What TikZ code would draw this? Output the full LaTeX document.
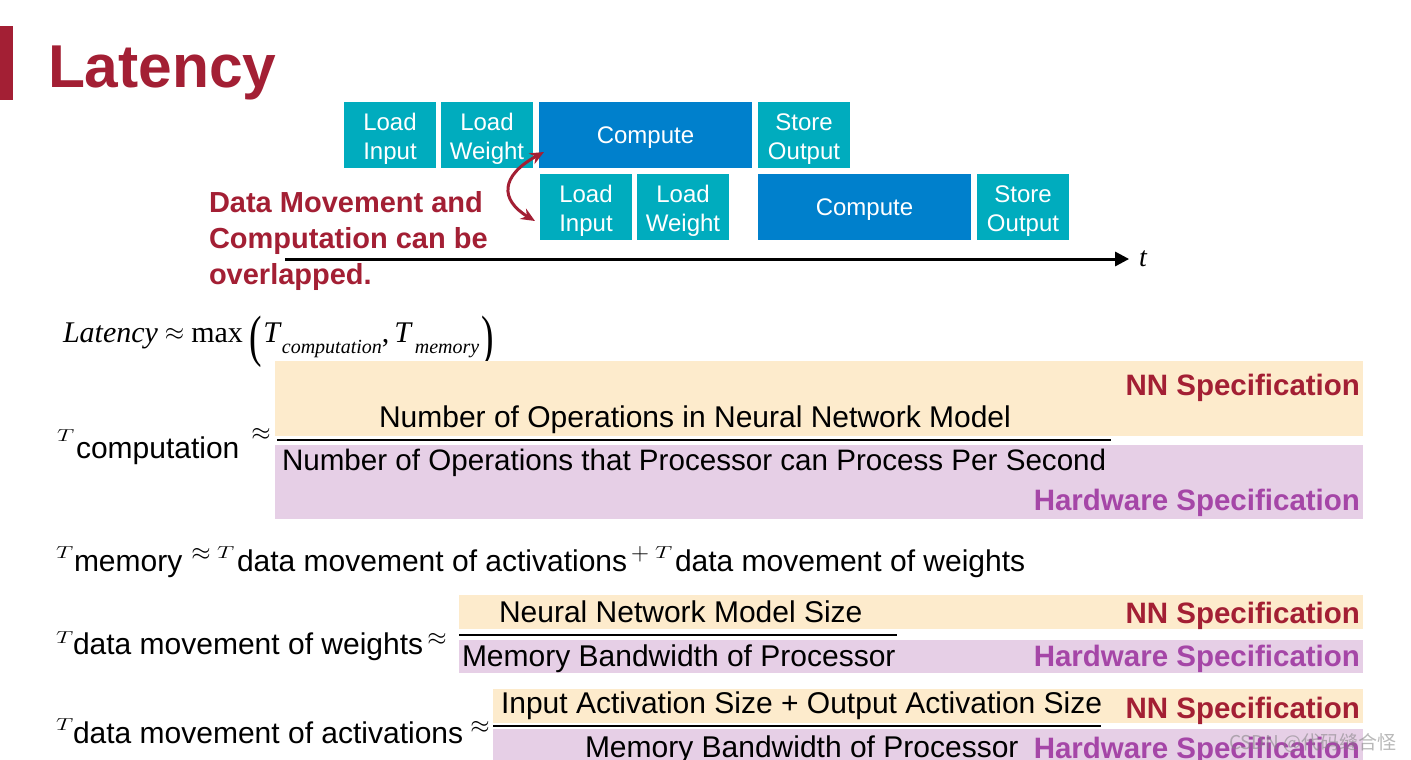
\documentclass[tikz,border=0pt]{standalone}
\usepackage{graphicx}
\usepackage{fontspec}
\setmainfont{Liberation Sans}
\newfontfamily\tms{Liberation Serif}
\newfontfamily\cjkf{Noto Sans CJK SC}
\usetikzlibrary{arrows.meta}
\definecolor{mitred}{HTML}{A31F34}
\definecolor{tealbox}{HTML}{00ACBE}
\definecolor{bluebox}{HTML}{0080CC}
\definecolor{nnband}{HTML}{FDEBCC}
\definecolor{hwband}{HTML}{E6CFE6}
\definecolor{hwtext}{HTML}{A546A7}
\newcommand{\wideT}{\scalebox{1.4}[1.0]{$T$}}
\newcommand{\tallparen}[1]{\raisebox{-13pt}{\scalebox{1.25}[1.9]{#1}}}
\newcommand{\subtx}[1]{\raisebox{-11pt}{\fontsize{20}{20}\selectfont\textit{#1}}}
\begin{document}
\begin{tikzpicture}[x=1pt,y=-1pt,
  every node/.style={inner sep=0pt,outer sep=0pt},
  blk/.style={fill=tealbox,anchor=north west,minimum width=92pt,minimum height=66pt},
  cmp/.style={blk,fill=bluebox,minimum width=213pt},
  btxt/.style={text=white,font=\fontsize{24}{29}\selectfont,align=center,anchor=center},
  body/.style={font=\fontsize{30}{30}\selectfont,anchor=base west},
  tsym/.style={font=\fontsize{19}{19}\selectfont,anchor=base west},
  apx/.style={font=\fontsize{28}{28}\selectfont,anchor=center},
  nnlab/.style={font=\fontsize{29.5}{30}\selectfont\bfseries,text=mitred,anchor=base east},
  hwlab/.style={font=\fontsize{29.5}{30}\selectfont\bfseries,text=hwtext,anchor=base east},
  fracline/.style={line width=2.5pt},
]
\useasboundingbox (0,0) rectangle (1411,760);
\fill[white] (0,0) rectangle (1411,760);
% title
\fill[mitred] (0,26) rectangle (13,100);
\node[anchor=base west,font=\fontsize{60.5}{62}\selectfont\bfseries,text=mitred] (title) at (48,88) {Latency};
% timeline boxes
\node[blk] (li1) at (344,102) {};
\node[blk] (lw1) at (441,102) {};
\node[cmp] (c1) at (539,102) {};
\node[blk] (so1) at (758,102) {};
\node[blk] (li2) at (540,174) {};
\node[blk] (lw2) at (637,174) {};
\node[cmp] (c2) at (758,174) {};
\node[blk] (so2) at (977,174) {};
\node[btxt] (li1t) at ([yshift=-4pt]li1.center) {Load\\Input};
\node[btxt] (lw1t) at ([yshift=-4pt]lw1.center) {Load\\Weight};
\node[btxt] (c1t) at ([yshift=-3pt]c1.center) {Compute};
\node[btxt] (so1t) at ([yshift=-4pt]so1.center) {Store\\Output};
\node[btxt] (li2t) at ([yshift=-4pt]li2.center) {Load\\Input};
\node[btxt] (lw2t) at ([yshift=-4pt]lw2.center) {Load\\Weight};
\node[btxt] (c2t) at ([yshift=-3pt]c2.center) {Compute};
\node[btxt] (so2t) at ([yshift=-4pt]so2.center) {Store\\Output};
% overlap arrow
\coordinate (ua) at (544,152);
\coordinate (la) at (535,221);
\draw[mitred,line width=3pt,{Stealth[length=14pt,width=12pt]}-{Stealth[length=14pt,width=12pt]}] (ua) .. controls (500,176) and (500,200) .. (la);
\node[anchor=base west,font=\fontsize{29}{36}\selectfont\bfseries,text=mitred,align=left] (ovl) at (209,284) {Data Movement and\\Computation can be\\overlapped.};
% time axis
\coordinate (t0) at (285,259);
\node[anchor=center,font=\tms\itshape\fontsize{28}{28}\selectfont] (tl) at (1143,259) {t};
\draw[line width=3pt,-{Triangle[length=14pt,width=14pt]}] (t0) -- ([xshift=-10pt]tl.west);
% latency formula
\node[anchor=base west,font=\tms\fontsize{30}{30}\selectfont] (lat) at (63,342) {\textit{Latency}\hspace{7pt}\raisebox{2pt}{$\approx$}\hspace{7pt}max\hspace{7pt}\tallparen{(}\hspace{1pt}\textit{T}\subtx{computation},\hspace{5pt}\textit{T}\hspace{2pt}\subtx{memory}\hspace{2pt}\tallparen{)}};
% T computation
\fill[nnband] (275,361) rectangle (1363,436);
\fill[hwband] (275,445) rectangle (1363,519);
\node[nnlab] (nn1) at (1360,395) {NN Specification};
\node[hwlab] (hw1) at (1360,510) {Hardware Specification};
\node[body,anchor=base] (num1) at (695,427) {Number of Operations in Neural Network Model};
\node[body,font=\fontsize{29.6}{30}\selectfont] (den1) at (282,470) {Number of Operations that Processor can Process Per Second};
\coordinate (f1a) at (277,440);
\coordinate (f1b) at (1111,440);
\draw[fracline] (f1a) -- (f1b);
\node[tsym] (tc) at (57,441) {\wideT};
\node[body] (csub) at (76,458) {computation};
\node[apx] (ap1) at (261,434) {$\approx$};
% T memory
\node[tsym] (tm) at (56,558) {\wideT};
\node[body] (msub) at (74,571) {memory};
\node[apx] (ap2) at (201,554) {$\approx$};
\node[tsym] (ta) at (217,558) {\wideT};
\node[body] (asub) at (237,571) {data movement of activations};
\node[apx,font=\fontsize{26}{26}\selectfont] (pl) at (640,554) {$+$};
\node[tsym] (tw) at (655,558) {\wideT};
\node[body] (wsub) at (675,571) {data movement of weights};
% T weights
\fill[nnband] (459,595) rectangle (1363,629);
\fill[hwband] (459,640) rectangle (1363,673);
\node[nnlab] (nn2) at (1360,623) {NN Specification};
\node[hwlab] (hw2) at (1360,666) {Hardware Specification};
\node[body] (num2) at (499,622) {Neural Network Model Size};
\node[body] (den2) at (462,666) {Memory Bandwidth of Processor};
\coordinate (f2a) at (459,635);
\coordinate (f2b) at (897,635);
\draw[fracline] (f2a) -- (f2b);
\node[tsym] (tw2) at (56,643) {\wideT};
\node[body] (wsub2) at (73,654) {data movement of weights};
\node[apx] (ap3) at (437,639) {$\approx$};
% T activations
\fill[nnband] (493,689) rectangle (1363,723);
\fill[hwband] (493,729) rectangle (1363,760);
\node[nnlab] (nn3) at (1360,718) {NN Specification};
\node[hwlab] (hw3) at (1360,758) {Hardware Specification};
\node[body] (num3) at (501,713) {Input Activation Size + Output Activation Size};
\node[body] (den3) at (585,757) {Memory Bandwidth of Processor};
\coordinate (f3a) at (493,726);
\coordinate (f3b) at (1101,726);
\draw[fracline] (f3a) -- (f3b);
\node[tsym] (ta2) at (56,730) {\wideT};
\node[body] (asub2) at (73,743) {data movement of activations};
\node[apx] (ap4) at (480,727) {$\approx$};
% watermark
\node[anchor=base east,font=\cjkf\fontsize{19}{19}\selectfont,text=gray,opacity=0.55] (wm) at (1396,749) {CSDN @代码缝合怪};
\end{tikzpicture}
\end{document}
